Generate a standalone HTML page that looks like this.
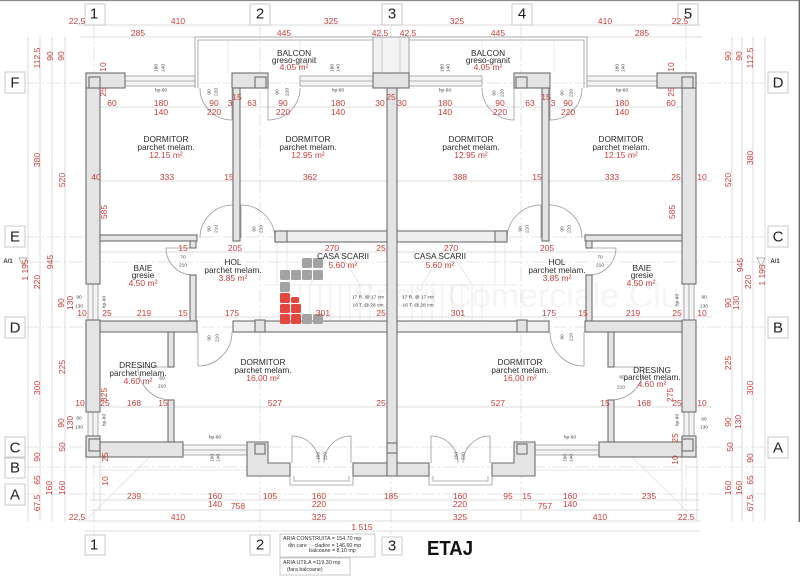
<!DOCTYPE html>
<html><head><meta charset="utf-8"><style>
html,body{margin:0;padding:0;background:#fff;}
svg{display:block;}
text{font-family:"Liberation Sans",Arial,sans-serif;dominant-baseline:central;text-anchor:middle;}
.r{fill:#c5403f;font-size:8.5px;}
.k{fill:#2a2a2a;font-size:8.3px;}
.s{fill:#444;font-size:4.8px;}
.ax{fill:#222;font-size:15px;}
.w rect,.w path{fill:#e4e4e4;stroke:#6e6e6e;stroke-width:1.1;}
.dim line{stroke:#d2d2d2;stroke-width:0.8;}
.axl line{stroke:#dcdcdc;stroke-width:0.8;stroke-dasharray:14 3 2 3;}
.win rect{fill:#f4f4f4;stroke:#9a9a9a;stroke-width:0.8;}
.thin path,.thin line{stroke:#9a9a9a;stroke-width:0.8;fill:none;}
.faint line,.faint path{stroke:#e2e2e2;stroke-width:0.8;fill:none;}
.box rect{fill:#fff;stroke:#c8c8c8;stroke-width:1;}
</style></head><body>
<svg width="800" height="583" viewBox="0 0 800 583" xmlns="http://www.w3.org/2000/svg">
<rect x="0" y="0" width="800" height="583" fill="#fff"/>
<line x1="0" y1="0.5" x2="800" y2="0.5" stroke="#8a8a8a" stroke-width="1.2"/>
<line x1="799.3" y1="0" x2="799.3" y2="522" stroke="#6a6a6a" stroke-width="1.4"/>

<!-- axis lines -->
<g class="axl">
<line x1="94" y1="25" x2="94" y2="535"/><line x1="260" y1="25" x2="260" y2="535"/>
<line x1="391" y1="25" x2="391" y2="535"/><line x1="521" y1="25" x2="521" y2="520"/>
<line x1="686" y1="25" x2="686" y2="520"/>
<line x1="25" y1="83" x2="767" y2="83"/><line x1="25" y1="237" x2="767" y2="237"/>
<line x1="25" y1="327" x2="767" y2="327"/><line x1="25" y1="447" x2="767" y2="447"/>
<line x1="25" y1="467" x2="767" y2="467"/><line x1="25" y1="494" x2="767" y2="494"/>
<line x1="25" y1="262" x2="767" y2="262"/>
</g>

<!-- dimension lines -->
<g class="dim">
<line x1="77" y1="25" x2="700" y2="25"/><line x1="80" y1="37" x2="702" y2="37"/>
<line x1="100" y1="107" x2="683" y2="107"/><line x1="90" y1="181" x2="712" y2="181"/>
<line x1="100" y1="252" x2="683" y2="252"/><line x1="75" y1="317" x2="712" y2="317"/>
<line x1="75" y1="407" x2="712" y2="407"/><line x1="90" y1="500" x2="700" y2="500"/>
<line x1="90" y1="510" x2="700" y2="510"/><line x1="77" y1="521" x2="700" y2="521"/>
<line x1="85" y1="531" x2="700" y2="531"/>
<line x1="28" y1="37" x2="28" y2="521"/><line x1="40" y1="37" x2="40" y2="521"/>
<line x1="52" y1="37" x2="52" y2="521"/><line x1="65" y1="37" x2="65" y2="521"/>
<line x1="732" y1="37" x2="732" y2="521"/><line x1="742" y1="37" x2="742" y2="521"/>
<line x1="753" y1="37" x2="753" y2="521"/><line x1="765" y1="37" x2="765" y2="521"/>
<line x1="86" y1="457" x2="86" y2="521"/><line x1="697" y1="457" x2="697" y2="521"/>
<line x1="100" y1="457" x2="100" y2="510"/><line x1="682" y1="457" x2="682" y2="510"/>
</g>
<g class="faint">
<line x1="86" y1="520" x2="150" y2="457"/><line x1="696" y1="520" x2="632" y2="457"/>
<line x1="100" y1="470" x2="290" y2="470"/><line x1="492" y1="470" x2="682" y2="470"/>
<line x1="228" y1="40" x2="228" y2="73"/><line x1="300" y1="40" x2="300" y2="73"/>
<line x1="554" y1="40" x2="554" y2="73"/><line x1="482" y1="40" x2="482" y2="73"/>
</g>

<!-- watermark -->
<text x="520" y="296" style="font-size:34px;fill:#000;opacity:0.035;">Spatii Comerciale Cluj</text>

<!-- balcony parapets -->
<g class="thin">
<path d="M195 88V37H373"/><path d="M198 88V40H373"/>
<path d="M587 88V37H409"/><path d="M584 88V40H409"/>
</g>
<rect x="373" y="37" width="36" height="36" fill="#f3f3f3" stroke="#999" stroke-width="0.9"/>
<line x1="382" y1="37" x2="382" y2="73" stroke="#bbb" stroke-width="0.7"/>
<line x1="400" y1="37" x2="400" y2="73" stroke="#bbb" stroke-width="0.7"/>

<!-- LEFT HALF -->
<g>
<g class="faint">
<line x1="265" y1="285" x2="387" y2="285"/>
<line x1="277" y1="242" x2="277" y2="285"/><line x1="287" y1="242" x2="287" y2="285"/>
<line x1="300" y1="285" x2="300" y2="321"/><line x1="310" y1="285" x2="310" y2="321"/>
<line x1="320" y1="285" x2="320" y2="321"/><line x1="330" y1="285" x2="330" y2="321"/>
<line x1="340" y1="285" x2="340" y2="321"/><line x1="350" y1="285" x2="350" y2="321"/>
<line x1="360" y1="285" x2="360" y2="321"/><line x1="370" y1="285" x2="370" y2="321"/>
<path d="M310 285L335 245L360 285"/>
</g>
<g class="win">
<rect x="125" y="76" width="70" height="10"/>
<rect x="300" y="76" width="73" height="10"/>
<rect x="88" y="284" width="10" height="36"/>
<rect x="88" y="412" width="10" height="24"/>
<rect x="183" y="445" width="64" height="10"/>
</g>
<g class="thin">
<line x1="125" y1="81" x2="195" y2="81"/><line x1="300" y1="81" x2="373" y2="81"/>
<line x1="93" y1="284" x2="93" y2="320"/><line x1="93" y1="412" x2="93" y2="436"/>
<line x1="183" y1="450" x2="247" y2="450"/>
<path d="M232 88V120A32 32 0 0 1 200 88"/>
<path d="M268 88V120A32 32 0 0 0 300 88"/>
<path d="M233 238V205A33 33 0 0 0 200 238"/>
<path d="M241 238V205A34 34 0 0 1 275 238"/>
<path d="M193 248H166A27 27 0 0 0 193 275"/>
<path d="M198 332V366A34 34 0 0 0 232 332"/>
<path d="M171 367H138A33 33 0 0 0 171 400"/>
<path d="M290 463V485H353V463"/><path d="M294 476V481H349V476"/>
<path d="M292 463V436A27 27 0 0 1 319 463"/>
<path d="M351 463V436A27 27 0 0 0 324 463"/>
</g>
<g class="w">
<rect x="86" y="73" width="14" height="211"/>
<rect x="86" y="73" width="39" height="15"/>
<rect x="89" y="77" width="11" height="11" style="fill:none"/>
<rect x="86" y="320" width="14" height="92"/>
<rect x="232" y="73" width="36" height="15"/>
<rect x="255" y="77" width="11" height="11" style="fill:none"/>
<rect x="233" y="88" width="7" height="153"/>
<rect x="100" y="235" width="97" height="6"/>
<rect x="190" y="241" width="6" height="7"/>
<rect x="190" y="275" width="6" height="46"/>
<rect x="275" y="231" width="112" height="11" style="fill:#efefef"/>
<rect x="275" y="231" width="12" height="11"/>
<rect x="100" y="321" width="97" height="11"/>
<rect x="233" y="321" width="154" height="11" style="fill:#efefef"/>
<rect x="255" y="320" width="10" height="12"/>
<rect x="168" y="332" width="6" height="35"/>
<rect x="168" y="400" width="6" height="42"/>
<rect x="86" y="442" width="97" height="15"/>
<rect x="86" y="436" width="14" height="21"/>
<rect x="89" y="439" width="11" height="12" style="fill:none"/>
<path d="M247 442H268V463H290V476H247Z"/>
<rect x="255" y="444" width="10" height="10" style="fill:none"/>
<rect x="353" y="463" width="34" height="13"/>
</g>
</g>

<!-- RIGHT HALF (mirror) -->
<g transform="matrix(-1 0 0 1 782 0)">
<g class="faint">
<line x1="265" y1="285" x2="387" y2="285"/>
<line x1="277" y1="242" x2="277" y2="285"/><line x1="287" y1="242" x2="287" y2="285"/>
<line x1="300" y1="285" x2="300" y2="321"/><line x1="310" y1="285" x2="310" y2="321"/>
<line x1="320" y1="285" x2="320" y2="321"/><line x1="330" y1="285" x2="330" y2="321"/>
<line x1="340" y1="285" x2="340" y2="321"/><line x1="350" y1="285" x2="350" y2="321"/>
<line x1="360" y1="285" x2="360" y2="321"/><line x1="370" y1="285" x2="370" y2="321"/>
<path d="M310 285L335 245L360 285"/>
</g>
<g class="win">
<rect x="125" y="76" width="70" height="10"/>
<rect x="300" y="76" width="73" height="10"/>
<rect x="88" y="284" width="10" height="36"/>
<rect x="88" y="412" width="10" height="24"/>
<rect x="183" y="445" width="64" height="10"/>
</g>
<g class="thin">
<line x1="125" y1="81" x2="195" y2="81"/><line x1="300" y1="81" x2="373" y2="81"/>
<line x1="93" y1="284" x2="93" y2="320"/><line x1="93" y1="412" x2="93" y2="436"/>
<line x1="183" y1="450" x2="247" y2="450"/>
<path d="M232 88V120A32 32 0 0 1 200 88"/>
<path d="M268 88V120A32 32 0 0 0 300 88"/>
<path d="M233 238V205A33 33 0 0 0 200 238"/>
<path d="M241 238V205A34 34 0 0 1 275 238"/>
<path d="M193 248H166A27 27 0 0 0 193 275"/>
<path d="M198 332V366A34 34 0 0 0 232 332"/>
<path d="M171 367H138A33 33 0 0 0 171 400"/>
<path d="M290 463V485H353V463"/><path d="M294 476V481H349V476"/>
<path d="M292 463V436A27 27 0 0 1 319 463"/>
<path d="M351 463V436A27 27 0 0 0 324 463"/>
</g>
<g class="w">
<rect x="86" y="73" width="14" height="211"/>
<rect x="86" y="73" width="39" height="15"/>
<rect x="89" y="77" width="11" height="11" style="fill:none"/>
<rect x="86" y="320" width="14" height="92"/>
<rect x="232" y="73" width="36" height="15"/>
<rect x="255" y="77" width="11" height="11" style="fill:none"/>
<rect x="233" y="88" width="7" height="153"/>
<rect x="100" y="235" width="97" height="6"/>
<rect x="190" y="241" width="6" height="7"/>
<rect x="190" y="275" width="6" height="46"/>
<rect x="275" y="231" width="112" height="11" style="fill:#efefef"/>
<rect x="275" y="231" width="12" height="11"/>
<rect x="100" y="321" width="97" height="11"/>
<rect x="233" y="321" width="154" height="11" style="fill:#efefef"/>
<rect x="255" y="320" width="10" height="12"/>
<rect x="168" y="332" width="6" height="35"/>
<rect x="168" y="400" width="6" height="42"/>
<rect x="86" y="442" width="97" height="15"/>
<rect x="86" y="436" width="14" height="21"/>
<rect x="89" y="439" width="11" height="12" style="fill:none"/>
<path d="M247 442H268V463H290V476H247Z"/>
<rect x="255" y="444" width="10" height="10" style="fill:none"/>
<rect x="353" y="463" width="34" height="13"/>
</g>
</g>

<!-- central walls -->
<g class="w">
<rect x="373" y="73" width="36" height="15"/>
<rect x="387" y="88" width="10" height="388"/>
<rect x="387" y="443" width="10" height="10" style="fill:none"/>
</g>

<!-- logo -->
<g fill="#a3a3a3">
<rect x="302" y="258" width="10" height="10" rx="1.5"/><rect x="313" y="258" width="10" height="10" rx="1.5"/>
<rect x="280" y="270" width="10" height="10" rx="1.5"/><rect x="291" y="270" width="10" height="10" rx="1.5"/>
<rect x="302" y="270" width="10" height="10" rx="1.5"/><rect x="313" y="270" width="10" height="10" rx="1.5"/>
<rect x="280" y="282" width="10" height="10" rx="1.5"/>
<rect x="302" y="314" width="10" height="10" rx="1.5"/><rect x="313" y="314" width="10" height="10" rx="1.5"/>
</g>
<g fill="#e4463d">
<rect x="280" y="293" width="10" height="10" rx="1.5"/><rect x="291" y="297" width="8" height="6" rx="1.5"/>
<rect x="280" y="304" width="10" height="9" rx="1.5"/><rect x="291" y="304" width="10" height="9" rx="1.5"/>
<rect x="280" y="314" width="10" height="10" rx="1.5"/><rect x="291" y="314" width="10" height="10" rx="1.5"/>
</g>

<!-- axis boxes -->
<g class="box">
<rect x="85" y="4" width="20" height="21"/><rect x="250" y="4" width="20" height="21"/>
<rect x="382" y="4" width="20" height="21"/><rect x="512" y="4" width="20" height="21"/>
<rect x="678" y="4" width="20" height="21"/>
<rect x="5" y="72" width="20" height="21"/><rect x="5" y="226" width="20" height="21"/>
<rect x="5" y="317" width="20" height="21"/><rect x="5" y="437" width="20" height="20"/>
<rect x="5" y="458" width="20" height="20"/><rect x="5" y="484" width="20" height="21"/>
<rect x="768" y="72" width="20" height="21"/><rect x="768" y="226" width="20" height="21"/>
<rect x="768" y="317" width="20" height="21"/><rect x="768" y="437" width="20" height="21"/>
<rect x="85" y="535" width="20" height="20"/><rect x="250" y="535" width="20" height="20"/>
<rect x="382" y="537" width="20" height="18"/>
</g>
<g class="ax">
<text x="94" y="14">1</text><text x="260" y="14">2</text><text x="392" y="14">3</text>
<text x="522" y="14">4</text><text x="688" y="14">5</text>
<text x="15" y="83">F</text><text x="15" y="237">E</text><text x="15" y="328">D</text>
<text x="15" y="448">C</text><text x="15" y="468">B</text><text x="15" y="495">A</text>
<text x="778" y="83">D</text><text x="778" y="237">C</text><text x="778" y="328">B</text>
<text x="778" y="448">A</text>
<text x="94" y="545">1</text><text x="260" y="545">2</text><text x="392" y="546">3</text>
</g>

<!-- A/1 markers -->
<text x="8" y="262" style="font-size:6px;fill:#333;font-weight:bold">A/1</text>
<path d="M19 258H27L23 266Z" fill="#fff" stroke="#999" stroke-width="0.7"/>
<text x="775" y="262" style="font-size:6px;fill:#333;font-weight:bold">A/1</text>
<path d="M757 258H765L761 266Z" fill="#fff" stroke="#999" stroke-width="0.7"/>

<!-- red horizontal dims -->
<g class="r">
<text x="77" y="21">22.5</text><text x="178" y="21">410</text><text x="331" y="21">325</text>
<text x="457" y="21">325</text><text x="605" y="21">410</text><text x="680" y="21">22.5</text>
<text x="138" y="33">285</text><text x="284" y="33">445</text><text x="380" y="33">42.5</text>
<text x="408" y="33">42.5</text><text x="498" y="33">445</text><text x="642" y="33">285</text>
<text x="112" y="103">60</text><text x="161" y="103">180</text><text x="214" y="103">90</text>
<text x="230" y="103">3</text><text x="252" y="103">63</text><text x="283" y="103">90</text>
<text x="338" y="103">180</text><text x="380" y="103">30</text><text x="402" y="103">30</text>
<text x="445" y="103">180</text><text x="500" y="103">90</text><text x="530" y="103">63</text>
<text x="553" y="103">3</text><text x="568" y="103">90</text><text x="622" y="103">180</text>
<text x="671" y="103">60</text>
<text x="237" y="97">15</text><text x="391" y="97">25</text><text x="546" y="97">15</text>
<text x="161" y="112">140</text><text x="214" y="112">220</text><text x="283" y="112">220</text>
<text x="338" y="112">140</text><text x="445" y="112">140</text><text x="500" y="112">220</text>
<text x="568" y="112">220</text><text x="622" y="112">140</text>
<text x="96" y="177">40</text><text x="167" y="177">333</text><text x="229" y="177">15</text>
<text x="310" y="177">362</text><text x="460" y="177">388</text><text x="537" y="177">15</text>
<text x="612" y="177">333</text><text x="676" y="177">25</text><text x="702" y="177">10</text>
<text x="183" y="248">15</text><text x="235" y="248">205</text><text x="332" y="248">270</text>
<text x="381" y="248">25</text><text x="451" y="248">270</text><text x="547" y="248">205</text>
<text x="82" y="313">10</text><text x="107" y="313">25</text><text x="144" y="313">219</text>
<text x="183" y="313">15</text><text x="232" y="313">175</text><text x="323" y="313">301</text>
<text x="381" y="313">25</text><text x="458" y="313">301</text><text x="549" y="313">175</text>
<text x="583" y="313">15</text><text x="633" y="313">219</text><text x="677" y="313">25</text>
<text x="702" y="313">10</text>
<text x="80" y="403">10</text><text x="105" y="403">25</text><text x="134" y="403">168</text>
<text x="163" y="403">15</text><text x="275" y="403">527</text><text x="381" y="403">25</text>
<text x="498" y="403">527</text><text x="605" y="403">15</text><text x="644" y="403">168</text>
<text x="677" y="403">25</text><text x="702" y="403">10</text>
<text x="134" y="496">239</text><text x="215" y="496">160</text><text x="270" y="496">105</text>
<text x="319" y="496">160</text><text x="391" y="496">185</text><text x="460" y="496">160</text>
<text x="508" y="496">95</text><text x="527" y="496">15</text><text x="570" y="496">160</text>
<text x="649" y="496">235</text>
<text x="215" y="504">140</text><text x="238" y="506">758</text><text x="319" y="504">220</text>
<text x="460" y="504">220</text><text x="545" y="506">757</text><text x="570" y="504">140</text>
<text x="77" y="517">22.5</text><text x="178" y="517">410</text><text x="319" y="517">325</text>
<text x="460" y="517">325</text><text x="600" y="517">410</text><text x="686" y="517">22.5</text>
<text x="362" y="527">1 515</text>
</g>

<!-- red vertical dims -->
<g class="r">
<text transform="translate(37,58) rotate(-90)">112.5</text>
<text transform="translate(50,56) rotate(-90)">90</text>
<text transform="translate(61,56) rotate(-90)">90</text>
<text transform="translate(103,67) rotate(-90)">10</text>
<text transform="translate(103,92) rotate(-90)">25</text>
<text transform="translate(37,160) rotate(-90)">380</text>
<text transform="translate(62,180) rotate(-90)">520</text>
<text transform="translate(104,212) rotate(-90)">585</text>
<text transform="translate(25,270) rotate(-90)">1 195</text>
<text transform="translate(37,282) rotate(-90)">220</text>
<text transform="translate(50,262) rotate(-90)">945</text>
<text transform="translate(61,303) rotate(-90)">90</text>
<text transform="translate(70,303) rotate(-90)">130</text>
<text transform="translate(62,367) rotate(-90)">225</text>
<text transform="translate(37,388) rotate(-90)">300</text>
<text transform="translate(104,395) rotate(-90)">325</text>
<text transform="translate(61,423) rotate(-90)">90</text>
<text transform="translate(70,423) rotate(-90)">130</text>
<text transform="translate(62,447) rotate(-90)">50</text>
<text transform="translate(105,457) rotate(-90)">25</text>
<text transform="translate(105,481) rotate(-90)">10</text>
<text transform="translate(37,457) rotate(-90)">90</text>
<text transform="translate(37,480) rotate(-90)">65</text>
<text transform="translate(49,488) rotate(-90)">160</text>
<text transform="translate(62,488) rotate(-90)">160</text>
<text transform="translate(37,503) rotate(-90)">67.5</text>
<text transform="translate(728,56) rotate(-90)">90</text>
<text transform="translate(739,56) rotate(-90)">90</text>
<text transform="translate(750,58) rotate(-90)">112.5</text>
<text transform="translate(671,67) rotate(-90)">10</text>
<text transform="translate(671,92) rotate(-90)">25</text>
<text transform="translate(750,158) rotate(-90)">380</text>
<text transform="translate(728,180) rotate(-90)">520</text>
<text transform="translate(672,212) rotate(-90)">585</text>
<text transform="translate(740,265) rotate(-90)">945</text>
<text transform="translate(748,282) rotate(-90)">220</text>
<text transform="translate(762,275) rotate(-90)">1 195</text>
<text transform="translate(728,303) rotate(-90)">90</text>
<text transform="translate(736,303) rotate(-90)">130</text>
<text transform="translate(728,363) rotate(-90)">225</text>
<text transform="translate(750,388) rotate(-90)">300</text>
<text transform="translate(670,395) rotate(-90)">275</text>
<text transform="translate(728,422) rotate(-90)">90</text>
<text transform="translate(738,422) rotate(-90)">130</text>
<text transform="translate(730,447) rotate(-90)">50</text>
<text transform="translate(675,438) rotate(-90)">25</text>
<text transform="translate(675,460) rotate(-90)">10</text>
<text transform="translate(750,458) rotate(-90)">90</text>
<text transform="translate(750,480) rotate(-90)">65</text>
<text transform="translate(728,488) rotate(-90)">160</text>
<text transform="translate(739,488) rotate(-90)">160</text>
<text transform="translate(750,503) rotate(-90)">67.5</text>
</g>

<!-- room labels -->
<g class="k">
<text x="166" y="139">DORMITOR</text><text x="166" y="147">parchet melam.</text>
<text x="308" y="139">DORMITOR</text><text x="308" y="147">parchet melam.</text>
<text x="471" y="139">DORMITOR</text><text x="471" y="147">parchet melam.</text>
<text x="621" y="139">DORMITOR</text><text x="621" y="147">parchet melam.</text>
<text x="294" y="53">BALCON</text><text x="294" y="60">greso-granit</text>
<text x="488" y="53">BALCON</text><text x="488" y="60">greso-granit</text>
<text x="143" y="268">BAIE</text><text x="143" y="275">gresie</text>
<text x="642" y="268">BAIE</text><text x="642" y="275">gresie</text>
<text x="233" y="262">HOL</text><text x="233" y="270">parchet melam.</text>
<text x="557" y="262">HOL</text><text x="557" y="270">parchet melam.</text>
<text x="343" y="256">CASA SCARII</text><text x="440" y="256">CASA SCARII</text>
<text x="138" y="365">DRESING</text><text x="138" y="373">parchet melam.</text>
<text x="652" y="370">DRESING</text><text x="652" y="377">parchet melam.</text>
<text x="263" y="362">DORMITOR</text><text x="263" y="370">parchet melam.</text>
<text x="520" y="362">DORMITOR</text><text x="520" y="370">parchet melam.</text>
</g>
<g class="r">
<text x="166" y="155">12.15 m²</text><text x="308" y="155">12.95 m²</text>
<text x="471" y="155">12.95 m²</text><text x="621" y="155">12.15 m²</text>
<text x="294" y="67">4.05 m²</text><text x="488" y="67">4.05 m²</text>
<text x="143" y="283">4.50 m²</text><text x="641" y="283">4.50 m²</text>
<text x="233" y="278">3.85 m²</text><text x="557" y="278">3.85 m²</text>
<text x="343" y="265">5.60 m²</text><text x="440" y="265">5.60 m²</text>
<text x="138" y="381">4.60 m²</text><text x="652" y="384">4.60 m²</text>
<text x="263" y="378">16,00 m²</text><text x="520" y="378">16,00 m²</text>
</g>

<!-- small labels -->
<g class="s">
<text x="161" y="91">hp-60</text><text x="338" y="91">hp-60</text>
<text x="445" y="91">hp-60</text><text x="622" y="91">hp-60</text>
<text x="215" y="438">hp-60</text><text x="570" y="438">hp-60</text>
<text x="183" y="258">70</text><text x="183" y="266">210</text>
<text x="600" y="258">70</text><text x="600" y="266">210</text>
<text x="162" y="379">60</text><text x="162" y="387">210</text>
<text x="622" y="378">60</text><text x="621" y="388">210</text>
<text x="79" y="298">90</text><text x="79" y="307">130</text>
<text x="79" y="419">60</text><text x="79" y="428">130</text>
<text x="704" y="298">90</text><text x="704" y="307">130</text>
<text x="704" y="420">60</text><text x="704" y="428">130</text>
<text x="368" y="298">17 R. @ 17 cm</text><text x="368" y="306">16 T. @ 28 cm</text>
<text x="418" y="298">17 R. @ 17 cm</text><text x="418" y="306">16 T. @ 28 cm</text>
<text transform="translate(157,68) rotate(-90)">180</text><text transform="translate(164,68) rotate(-90)">140</text>
<text transform="translate(333,68) rotate(-90)">180</text><text transform="translate(339,68) rotate(-90)">140</text>
<text transform="translate(443,68) rotate(-90)">180</text><text transform="translate(449,68) rotate(-90)">140</text>
<text transform="translate(618,68) rotate(-90)">180</text><text transform="translate(624,68) rotate(-90)">140</text>
<text transform="translate(210,92) rotate(-90)">90</text><text transform="translate(217,92) rotate(-90)">220</text>
<text transform="translate(278,92) rotate(-90)">90</text><text transform="translate(288,92) rotate(-90)">220</text>
<text transform="translate(495,93) rotate(-90)">90</text><text transform="translate(503,93) rotate(-90)">220</text>
<text transform="translate(563,93) rotate(-90)">90</text><text transform="translate(572,93) rotate(-90)">220</text>
<text transform="translate(210,229) rotate(-90)">90</text><text transform="translate(217,229) rotate(-90)">210</text>
<text transform="translate(255,229) rotate(-90)">90</text><text transform="translate(262,229) rotate(-90)">210</text>
<text transform="translate(521,229) rotate(-90)">90</text><text transform="translate(528,229) rotate(-90)">210</text>
<text transform="translate(563,229) rotate(-90)">90</text><text transform="translate(570,229) rotate(-90)">210</text>
<text transform="translate(210,338) rotate(-90)">90</text><text transform="translate(218,338) rotate(-90)">210</text>
<text transform="translate(563,337) rotate(-90)">90</text><text transform="translate(572,337) rotate(-90)">210</text>
<text transform="translate(105,302) rotate(-90)">hp-90</text><text transform="translate(105,420) rotate(-90)">hp-90</text>
<text transform="translate(678,300) rotate(-90)">hp-90</text><text transform="translate(678,420) rotate(-90)">hp-90</text>
<text transform="translate(213,458) rotate(-90)">160</text><text transform="translate(219,458) rotate(-90)">140</text>
<text transform="translate(566,458) rotate(-90)">160</text><text transform="translate(572,458) rotate(-90)">140</text>
<text transform="translate(319,456) rotate(-90)">160</text><text transform="translate(326,456) rotate(-90)">220</text>
<text transform="translate(457,456) rotate(-90)">160</text><text transform="translate(464,456) rotate(-90)">220</text>
</g>

<!-- info box -->
<g class="box">
<rect x="280" y="534" width="95" height="23"/>
<rect x="280" y="558" width="70" height="17"/>
</g>
<g style="font-size:5.3px;fill:#333">
<text x="283" y="539" style="text-anchor:start">ARIA CONSTRUITA = 154,70 mp</text>
<text x="288" y="546" style="text-anchor:start">din care :  - cladire = 146,60 mp</text>
<text x="309" y="551" style="text-anchor:start">balcoane =    8,10 mp</text>
<text x="283" y="563" style="text-anchor:start">ARIA UTILA =119,30 mp</text>
<text x="287" y="570" style="text-anchor:start">(fara balcoane)</text>
</g>

<text x="450" y="549" textLength="46" lengthAdjust="spacingAndGlyphs" style="font-size:20px;font-weight:bold;fill:#111">ETAJ</text>
</svg>
</body></html>
